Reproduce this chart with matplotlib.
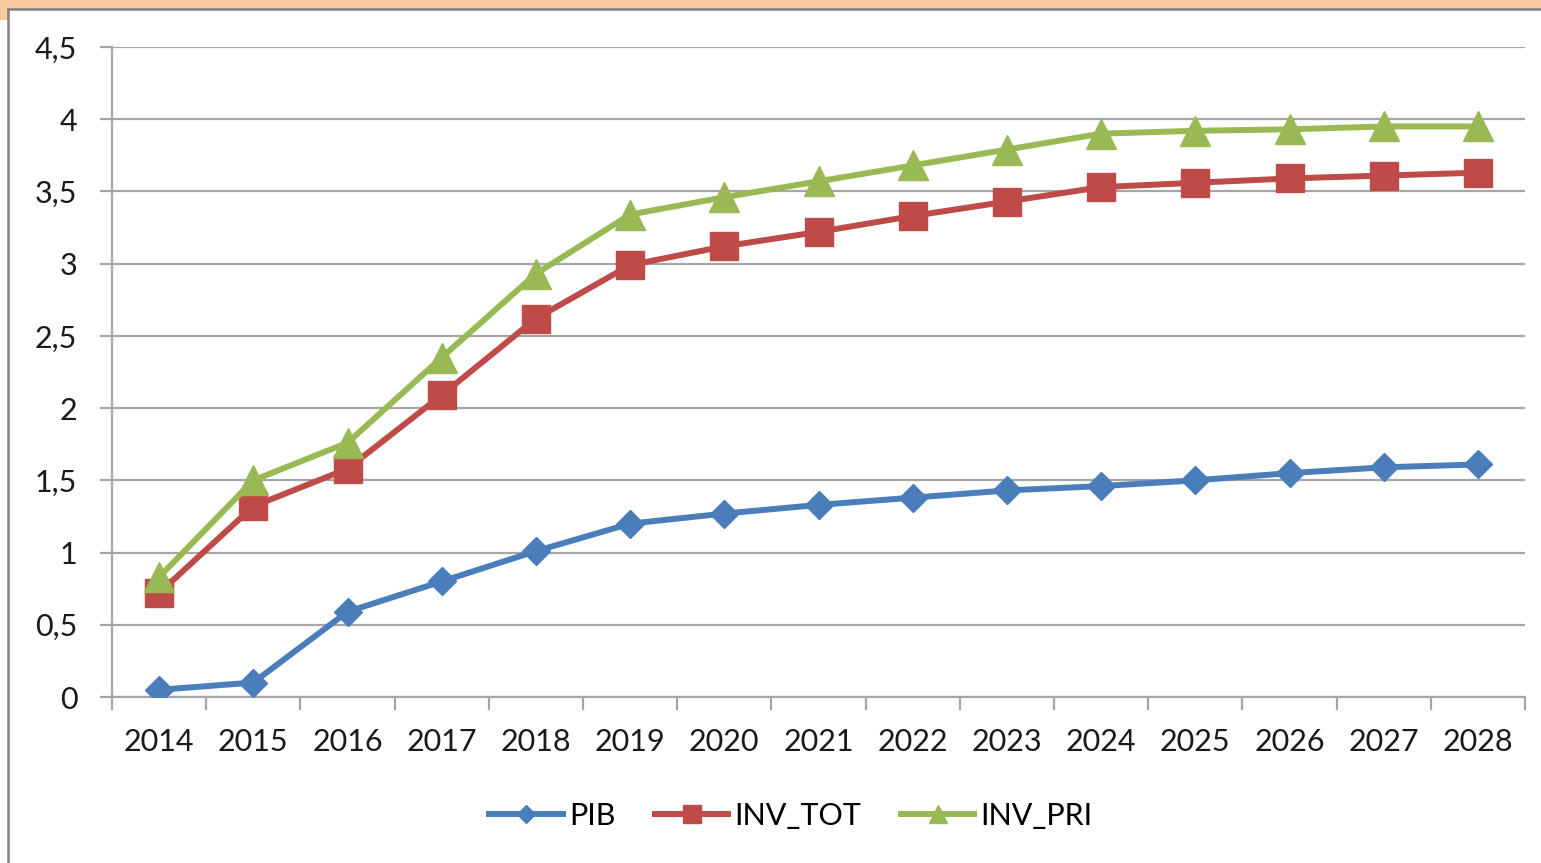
# line chart: PIB / INV_TOT / INV_PRI, 2014-2028
import matplotlib.pyplot as plt
from matplotlib.patches import Rectangle
from matplotlib.lines import Line2D
from matplotlib.ticker import FuncFormatter, FixedLocator

plt.rcParams['font.family'] = ['Lato', 'DejaVu Sans']

# data
years = [2014, 2015, 2016, 2017, 2018, 2019, 2020, 2021,
         2022, 2023, 2024, 2025, 2026, 2027, 2028]
pib = [0.05, 0.10, 0.59, 0.80, 1.01, 1.20, 1.27, 1.33,
       1.38, 1.43, 1.46, 1.50, 1.55, 1.59, 1.61]
inv_tot = [0.72, 1.32, 1.58, 2.09, 2.62, 2.99, 3.12, 3.22,
           3.33, 3.43, 3.53, 3.56, 3.59, 3.61, 3.63]
inv_pri = [0.83, 1.50, 1.76, 2.35, 2.93, 3.34, 3.46, 3.57,
           3.68, 3.79, 3.90, 3.92, 3.93, 3.95, 3.95]

W, H = 1541, 863
fig = plt.figure(figsize=(W / 100, H / 100), dpi=100)
fig.patch.set_facecolor('white')

# frame decoration (orange band + gray border)
fig.patches.append(Rectangle((0, 1 - 8 / H), 1, 8 / H, transform=fig.transFigure,
                             color='#F9CB9C', zorder=0))
fig.patches.append(Rectangle((0, 1 - 19 / H), 7 / W, 19 / H, transform=fig.transFigure,
                             color='#F9CB9C', zorder=0))
fig.lines.append(Line2D([8 / W, 1], [1 - 9 / H, 1 - 9 / H], transform=fig.transFigure,
                        color='#7F7F7F', lw=1.8))
fig.lines.append(Line2D([8 / W, 8 / W], [0, 1 - 9 / H], transform=fig.transFigure,
                        color='#7F7F7F', lw=1.8))

ax = fig.add_axes([112 / W, 1 - 697 / H, (1525 - 112) / W, (697 - 47) / H])
x = list(range(len(years)))

ax.plot(x, pib, color='#4A7EBB', lw=4.3, marker='D', ms=14.5, label='PIB', zorder=3)
ax.plot(x, inv_tot, color='#BE4B48', lw=4.3, marker='s', ms=20, label='INV_TOT', zorder=3)
ax.plot(x, inv_pri, color='#98B954', lw=4.3, marker='^', ms=21, label='INV_PRI', zorder=4)

ax.set_xlim(-0.5, len(years) - 0.5)
ax.set_ylim(0, 4.5)
ax.set_yticks([0, 0.5, 1, 1.5, 2, 2.5, 3, 3.5, 4, 4.5])
ax.yaxis.set_major_formatter(FuncFormatter(lambda v, p: f'{v:g}'.replace('.', ',')))
ax.grid(axis='y', color='#A6A6A6', lw=1.6)
ax.set_axisbelow(True)

# ticks between categories, labels at category centres
ax.xaxis.set_major_locator(FixedLocator([i - 0.5 for i in range(len(years) + 1)]))
ax.xaxis.set_major_formatter(FuncFormatter(lambda v, p: ''))
ax.xaxis.set_minor_locator(FixedLocator(x))
ax.set_xticklabels([str(y) for y in years], minor=True)
ax.tick_params(axis='x', which='major', length=9, width=1.6, color='#A6A6A6')
ax.tick_params(axis='x', which='minor', length=0, pad=22, labelsize=22, labelcolor='#1a1a1a')
ax.tick_params(axis='y', length=9, width=1.6, color='#A6A6A6', pad=16,
               labelsize=22, labelcolor='#1a1a1a')

for s in ['top', 'right']:
    ax.spines[s].set_visible(False)
for s in ['left', 'bottom']:
    ax.spines[s].set_color('#A6A6A6')
    ax.spines[s].set_linewidth(1.6)

fig.legend(loc='center', bbox_to_anchor=(791 / W, 1 - 816 / H), ncol=3, frameon=False,
           fontsize=22, handlelength=2.4, handletextpad=0.2, columnspacing=1.3,
           markerscale=0.65)

fig.savefig('out.png', dpi=100)
